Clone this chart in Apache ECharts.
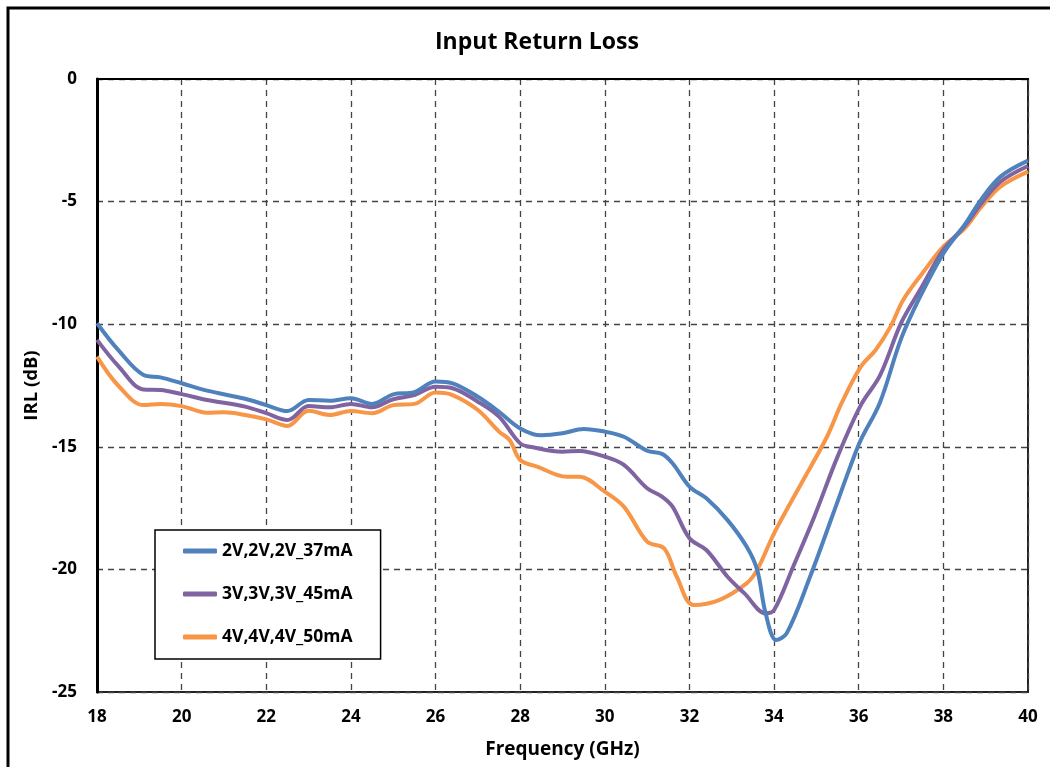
<!DOCTYPE html>
<html>
<head>
<meta charset="utf-8">
<title>Input Return Loss</title>
<script src="https://cdn.jsdelivr.net/npm/echarts@6/dist/echarts.min.js"></script>
<style>
    html, body { margin: 0; padding: 0; background: #fff; }
    #irl_chart { width: 1050px; height: 767px; }
</style>
</head>
<body>
<div id="irl_chart"></div>
<script>
// Data
// ------------------------------

var seriesNames = ['2V,2V,2V_37mA', '3V,3V,3V_45mA', '4V,4V,4V_50mA'];

var freq2V = [18, 18.5, 19.1, 19.5, 20, 20.6, 21.5, 22, 22.5, 23, 23.5, 24, 24.5, 25, 25.5, 26, 26.4, 27, 27.5, 28, 28.5, 29, 29.5, 30, 30.45, 31, 31.35, 31.6, 32, 32.4, 32.9, 33.35, 33.6, 33.8, 34.05, 34.3, 34.85, 35.4, 35.8, 36.05, 36.5, 37, 37.45, 38, 38.5, 38.9, 39.35, 40];
var irl2V = [-9.96, -11.05, -12.07, -12.17, -12.41, -12.71, -13.04, -13.3, -13.54, -13.09, -13.12, -13.02, -13.25, -12.86, -12.77, -12.34, -12.41, -12.96, -13.57, -14.25, -14.53, -14.45, -14.27, -14.38, -14.59, -15.16, -15.29, -15.67, -16.62, -17.1, -17.99, -19.07, -20.02, -21.79, -22.88, -22.6, -20.3, -17.71, -15.81, -14.72, -13.2, -10.6, -8.88, -7.11, -5.95, -4.9, -3.98, -3.33];

var freq3V = [18, 18.5, 19.1, 19.5, 20, 20.6, 21.5, 22, 22.5, 23, 23.5, 24, 24.5, 25, 25.5, 26, 26.4, 27, 27.5, 28, 28.3, 29, 29.4, 30, 30.45, 31, 31.35, 31.6, 32, 32.4, 32.9, 33.3, 33.8, 34.0, 34.45, 34.95, 35.5, 36.05, 36.5, 37, 37.45, 38, 38.5, 38.9, 39.35, 40];
var irl3V = [-10.64, -11.7, -12.66, -12.68, -12.85, -13.09, -13.36, -13.63, -13.91, -13.34, -13.39, -13.25, -13.39, -13.06, -12.89, -12.55, -12.61, -13.16, -13.77, -14.86, -15.02, -15.2, -15.17, -15.4, -15.74, -16.69, -17.03, -17.44, -18.73, -19.21, -20.3, -20.98, -21.79, -21.66, -19.89, -17.85, -15.4, -13.3, -12.1, -9.96, -8.6, -6.97, -6.0, -5.07, -4.19, -3.55];

var freq4V = [18, 18.5, 19.1, 19.5, 20, 20.6, 21, 21.5, 22, 22.5, 23, 23.5, 24, 24.5, 25, 25.5, 26, 26.4, 27, 27.5, 27.75, 28, 28.4, 29.1, 29.4, 30, 30.45, 31, 31.4, 31.7, 32.1, 32.7, 33.35, 33.6, 34.0, 34.6, 35.25, 35.6, 36.05, 36.4, 36.75, 37.05, 37.5, 38, 38.5, 38.9, 39.35, 40];
var irl4V = [-11.32, -12.5, -13.3, -13.25, -13.34, -13.61, -13.59, -13.7, -13.88, -14.15, -13.53, -13.7, -13.54, -13.63, -13.3, -13.25, -12.79, -12.89, -13.5, -14.38, -14.72, -15.54, -15.81, -16.22, -16.22, -16.83, -17.44, -18.87, -19.14, -20.3, -21.45, -21.25, -20.57, -20.02, -18.53, -16.63, -14.59, -13.2, -11.73, -11.05, -10.1, -9.01, -7.93, -6.84, -6.1, -5.21, -4.39, -3.78];

var seriesColors = ['#4F81BD', '#8064A2', '#F79646'];


// Setup module
// ------------------------------

var InputReturnLoss = function() {

    var pairs = function(xs, ys) {
        return xs.map(function(x, i) { return [x, ys[i]]; });
    };

    var _irlChart = function() {
        if (typeof echarts == 'undefined') {
            console.warn('Warning - echarts.min.js is not loaded.');
            return;
        }

        var irl_element = document.getElementById('irl_chart');
        if (!irl_element) return;

        var irl_chart = echarts.init(irl_element);

        var lineSeries = function(idx, xs, ys) {
            return {
                name: seriesNames[idx],
                type: 'line',
                data: pairs(xs, ys),
                smooth: 0.35,
                showSymbol: false,
                lineStyle: { width: 4, color: seriesColors[idx] },
                itemStyle: { color: seriesColors[idx] },
                z: 5 - idx
            };
        };

        irl_chart.setOption({
            animation: false,

            textStyle: {
                fontFamily: 'Open Sans, DejaVu Sans, sans-serif',
                fontWeight: 'bold',
                color: '#000'
            },

            title: {
                text: 'Input Return Loss',
                left: 430,
                top: 26,
                textStyle: {
                    fontSize: 23,
                    fontWeight: 'bold',
                    color: '#000',
                    fontFamily: 'Open Sans, sans-serif'
                }
            },

            grid: {
                left: 97,
                right: 22,
                top: 79,
                bottom: 75,
                show: true,
                borderColor: '#222',
                borderWidth: 2
            },

            legend: {
                orient: 'vertical',
                left: 155,
                top: 530,
                padding: [12, 28, 13, 28],
                itemGap: 25,
                itemWidth: 34,
                itemHeight: 5,
                backgroundColor: '#fff',
                borderColor: '#000',
                borderWidth: 1.5,
                icon: 'roundRect',
                textStyle: {
                    fontSize: 17.5,
                    fontWeight: 'bold',
                    color: '#000'
                },
                data: seriesNames
            },

            xAxis: {
                type: 'value',
                min: 18,
                max: 40,
                interval: 2,
                name: 'Frequency (GHz)',
                nameLocation: 'middle',
                nameGap: 48,
                nameTextStyle: { fontSize: 19, fontWeight: 'bold', color: '#000' },
                axisLine: { lineStyle: { color: '#000', width: 2 } },
                axisTick: { show: false },
                axisLabel: { fontSize: 17, fontWeight: 'bold', color: '#000', margin: 17 },
                splitLine: {
                    show: true,
                    lineStyle: { color: '#444', type: [6, 5], width: 1.3 }
                }
            },

            yAxis: {
                type: 'value',
                min: -25,
                max: 0,
                interval: 5,
                name: 'IRL (dB)',
                nameLocation: 'middle',
                nameGap: 49,
                nameTextStyle: { fontSize: 18.5, fontWeight: 'bold', color: '#000' },
                axisLine: { show: true, lineStyle: { color: '#000', width: 3 } },
                axisTick: { show: false },
                axisLabel: { fontSize: 17, fontWeight: 'bold', color: '#000', margin: 20 },
                splitLine: {
                    show: true,
                    lineStyle: { color: '#444', type: [6, 5], width: 1.3 }
                }
            },

            // Outer chart frame
            graphic: [{
                type: 'rect',
                shape: { x: 8, y: 8, width: 1080, height: 800 },
                style: { fill: 'none', stroke: '#000', lineWidth: 3 },
                silent: true
            }],

            series: [
                lineSeries(0, freq2V, irl2V),
                lineSeries(1, freq3V, irl3V),
                lineSeries(2, freq4V, irl4V)
            ]
        });

        window.addEventListener('resize', function() {
            irl_chart.resize();
        });
    };

    return {
        init: function() {
            _irlChart();
        }
    };
}();


// Initialize module
// ------------------------------

document.addEventListener('DOMContentLoaded', function() {
    InputReturnLoss.init();
});
</script>
</body>
</html>
